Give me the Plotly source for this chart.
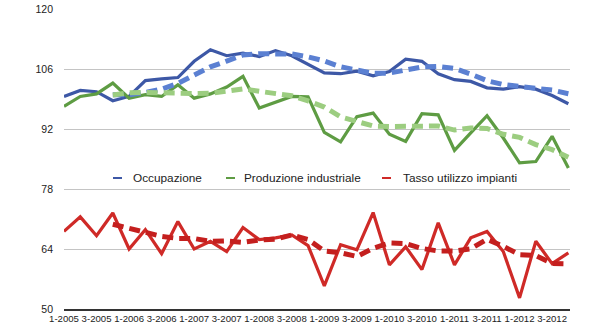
import pandas as pd
import plotly.graph_objects as go

# Quarterly categories, 1-2005 .. 4-2012
quarters = [
    "1-2005", "2-2005", "3-2005", "4-2005",
    "1-2006", "2-2006", "3-2006", "4-2006",
    "1-2007", "2-2007", "3-2007", "4-2007",
    "1-2008", "2-2008", "3-2008", "4-2008",
    "1-2009", "2-2009", "3-2009", "4-2009",
    "1-2010", "2-2010", "3-2010", "4-2010",
    "1-2011", "2-2011", "3-2011", "4-2011",
    "1-2012", "2-2012", "3-2012", "4-2012",
]
tick_labels = quarters[::2]

occupazione = [
    99.6, 101.0, 100.7, 98.6, 99.6, 103.3, 103.7, 104.0,
    107.8, 110.5, 109.1, 109.7, 108.9, 110.3, 109.1, 107.0,
    105.1, 104.9, 105.5, 104.4, 105.4, 108.3, 107.8, 104.9,
    103.5, 103.1, 101.6, 101.3, 101.9, 101.3, 99.8, 97.9,
]
produzione = [
    97.3, 99.6, 100.2, 102.7, 99.2, 100.0, 99.6, 102.3,
    99.2, 100.2, 101.8, 104.3, 96.9, 98.2, 99.6, 99.5,
    91.2, 89.0, 94.9, 95.7, 90.8, 89.1, 95.6, 95.3,
    87.0, 91.1, 95.1, 89.9, 84.1, 84.4, 90.3, 82.9,
]
tasso = [
    68.1, 71.5, 67.1, 72.4, 64.0, 68.5, 62.9, 70.4,
    64.0, 65.8, 63.4, 69.0, 66.2, 66.6, 67.3, 64.8,
    55.4, 65.0, 63.8, 72.5, 60.3, 64.5, 59.2, 70.1,
    60.3, 66.6, 68.1, 63.4, 52.6, 65.8, 60.6, 63.1,
]

series = [
    ("Occupazione", occupazione, "#3d58a6", "#5b80d2"),
    ("Produzione industriale", produzione, "#5e9c43", "#9ccd80"),
    ("Tasso utilizzo impianti", tasso, "#cf2a27", "#c41f1e"),
]

FONT = "Liberation Sans, Arial, Helvetica, sans-serif"

fig = go.Figure()

# Solid quarterly series
for name, vals, solid, _ in series:
    fig.add_trace(go.Scatter(
        x=quarters, y=vals, mode="lines", name=name,
        line=dict(color=solid, width=3.2), showlegend=False,
    ))

# 4-quarter moving averages, dashed
for name, vals, _, dashed in series:
    ma = pd.Series(vals).rolling(4).mean()
    fig.add_trace(go.Scatter(
        x=quarters, y=ma, mode="lines", name=name + " (media mobile)",
        line=dict(color=dashed, width=5, dash="11px,6px"), showlegend=False,
    ))

# Legend: short coloured keys followed by labels
L, R, T, B = 64, 30, 9, 27
W, H = 600 - L - R, 336 - T - B
legend_y = 1 - (178 - T) / H
legend_items = [(113, 131), (226, 242), (382, 401)]
for (key_px, text_px), (name, _, solid, _) in zip(legend_items, series):
    fig.add_shape(
        type="line", xref="paper", yref="paper",
        x0=(key_px - L) / W, x1=(key_px + 9 - L) / W,
        y0=legend_y, y1=legend_y,
        line=dict(color=solid, width=2),
    )
    fig.add_annotation(
        xref="paper", yref="paper", x=(text_px - L) / W, y=legend_y,
        xanchor="left", yanchor="middle", showarrow=False,
        text=name, font=dict(family=FONT, size=11.8, color="#222222"),
    )

fig.update_layout(
    width=600, height=336,
    margin=dict(l=L, r=R, t=T, b=B, autoexpand=False),
    paper_bgcolor="white", plot_bgcolor="white",
    font=dict(family=FONT, size=10.2, color="#333333"),
    showlegend=False,
)
fig.update_xaxes(
    type="category", range=[0, 31.1], automargin=False,
    tickmode="array", tickvals=tick_labels, ticktext=tick_labels,
    tickangle=0, showgrid=False, zeroline=False,
    showline=True, linecolor="#333333", linewidth=1.5,
    ticks="", tickfont=dict(size=9.6, color="#222222"),
)
fig.update_yaxes(
    range=[50, 120], tickvals=[50, 64, 78, 92, 106, 120], automargin=False,
    showgrid=True, gridcolor="#c4c4c4", gridwidth=1,
    zeroline=False, showline=False, ticks="",
    ticklabelstandoff=10, tickfont=dict(size=10.5, color="#222222"),
)

fig.write_html("out.html")
